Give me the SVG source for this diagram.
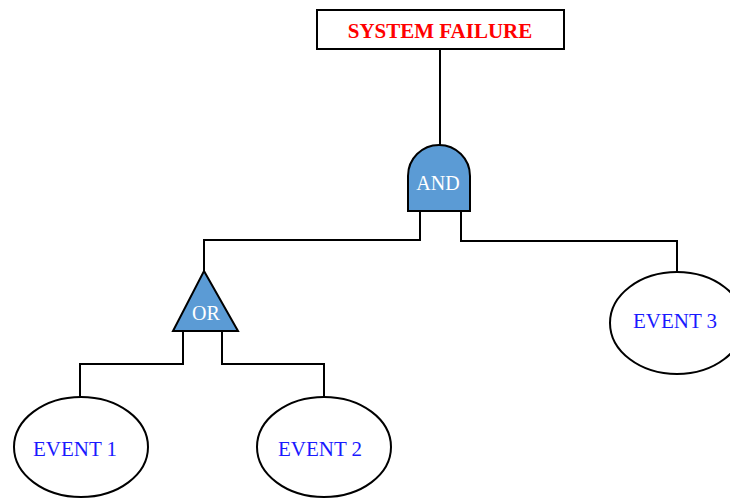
<svg xmlns="http://www.w3.org/2000/svg" width="730" height="498" viewBox="0 0 730 498">
  <style>
    .wire { fill: none; stroke: #000; stroke-width: 2; }
    .gate { fill: #5b9bd5; stroke: #000; stroke-width: 2; }
    .event { fill: #fff; stroke: #000; stroke-width: 2; }
    .box { fill: #fff; stroke: #000; stroke-width: 2; }
    text { font-family: "Liberation Serif", "Times New Roman", serif; text-anchor: middle; }
    .top { fill: #ff0000; font-weight: bold; font-size: 21px; }
    .gtxt { fill: #fff; font-size: 20px; }
    .etxt { fill: #1a1aff; font-size: 21px; }
  </style>

  <!-- connectors -->
  <g id="connectors">
    <path class="wire" d="M440 49 V145"/>
    <path class="wire" d="M420 211 V240 H204 V271"/>
    <path class="wire" d="M461 211 V241 H677 V272"/>
    <path class="wire" d="M183 331 V364 H80 V397"/>
    <path class="wire" d="M222 331 V364 H324 V397"/>
  </g>

  <!-- top event -->
  <g id="system-failure">
    <rect class="box" x="317" y="10" width="247" height="39"/>
    <text class="top" x="440" y="38">SYSTEM FAILURE</text>
  </g>

  <!-- AND gate -->
  <g id="and-gate">
    <path class="gate" d="M408 211 V176 A31 31 0 0 1 470 176 V211 Z"/>
    <text class="gtxt" x="438" y="190">AND</text>
  </g>

  <!-- OR gate -->
  <g id="or-gate">
    <path class="gate" d="M204 271 L238 331 H173 Z"/>
    <text class="gtxt" x="206" y="320">OR</text>
  </g>

  <!-- basic events -->
  <g id="event-1">
    <ellipse class="event" cx="81" cy="447" rx="67" ry="50"/>
    <text class="etxt" x="75" y="456">EVENT 1</text>
  </g>
  <g id="event-2">
    <ellipse class="event" cx="324" cy="447" rx="67" ry="50"/>
    <text class="etxt" x="320" y="456">EVENT 2</text>
  </g>
  <g id="event-3">
    <ellipse class="event" cx="677" cy="323" rx="67" ry="51"/>
    <text class="etxt" x="675" y="328">EVENT 3</text>
  </g>
</svg>
